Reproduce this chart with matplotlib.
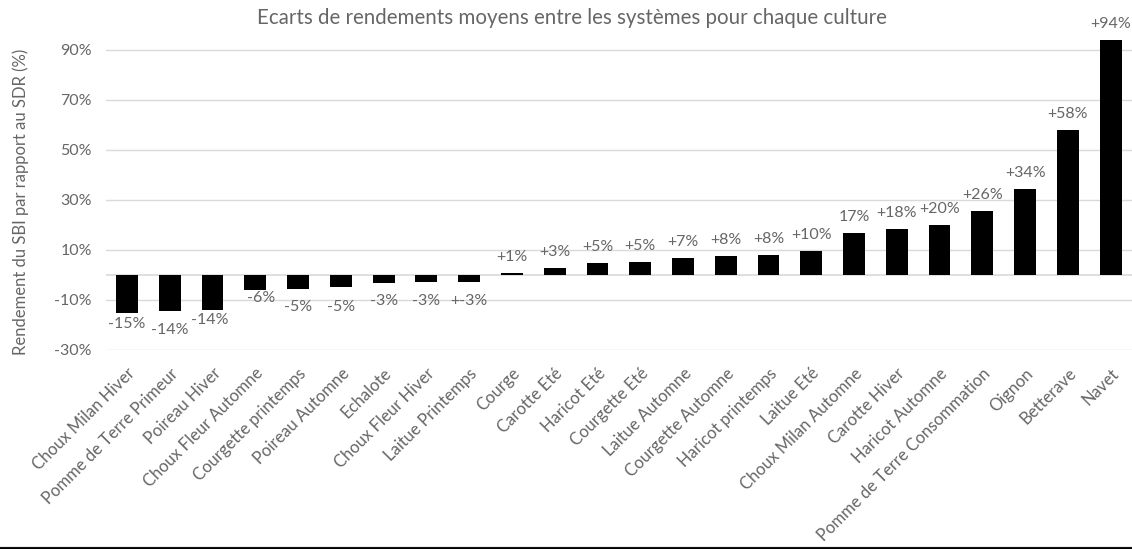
import matplotlib.pyplot as plt
from matplotlib.lines import Line2D
import numpy as np

plt.rcParams['font.family'] = ['Lato', 'DejaVu Sans']

# Yield gap of SBI vs SDR per crop (%)
crops = ['Choux Milan Hiver', 'Pomme de Terre Primeur', 'Poireau Hiver',
         'Choux Fleur Automne', 'Courgette printemps', 'Poireau Automne',
         'Echalote', 'Choux Fleur Hiver', 'Laitue Printemps', 'Courge',
         'Carotte Eté', 'Haricot Eté', 'Courgette Eté', 'Laitue Automne',
         'Courgette Automne', 'Haricot printemps', 'Laitue Eté',
         'Choux Milan Automne', 'Carotte Hiver', 'Haricot Automne',
         'Pomme de Terre Consommation', 'Oignon', 'Betterave', 'Navet']
gaps = [-15.1, -14.3, -14.0, -6.0, -5.6, -4.8, -3.1, -2.8, -2.8, 0.9,
        2.9, 4.9, 5.3, 6.9, 7.7, 8.1, 9.6, 16.8, 18.4, 20.0,
        25.6, 34.4, 58.0, 94.0]
value_labels = ['-15%', '-14%', '-14%', '-6%', '-5%', '-5%', '-3%', '-3%', '+-3%',
                '+1%', '+3%', '+5%', '+5%', '+7%', '+8%', '+8%', '+10%',
                '17%', '+18%', '+20%', '+26%', '+34%', '+58%', '+94%']
yticks = [-30, -10, 10, 30, 50, 70, 90]

# label placement (pixels from bar end to label centre), as moved by hand in the original
neg_shift = [11, 19, 10, 8, 18, 20, 18, 19, 19]
neg_dx = [0, 0, -3, 6, 0, 0, 0, 0, 0]

grey = '#666666'
px = 0.72  # points per pixel at dpi 100

fig = plt.figure(figsize=(11.32, 5.49), dpi=100)
ax = fig.add_axes([0.0933, 0.3625, 0.9067, 0.592])

xpos = np.arange(len(crops))
ax.bar(xpos, gaps, width=0.51, color='black', zorder=3)

ax.set_xlim(-0.5, len(crops) - 0.5)
ax.set_ylim(-30, 100)
ax.set_yticks(yticks)
ax.set_yticklabels([f'{t}%' for t in yticks])
ax.grid(axis='y', color='#d9d9d9', linewidth=1)
ax.axhline(0, color='#d9d9d9', linewidth=1.2, zorder=2)
for s in ax.spines.values():
    s.set_visible(False)
ax.tick_params(axis='both', length=0, labelcolor=grey)
ax.tick_params(axis='y', pad=10, labelsize=11.5)
ax.tick_params(axis='x', pad=11, labelsize=12)

ax.set_xticks(xpos)
ax.set_xticklabels(crops, rotation=45, ha='right', rotation_mode='anchor')

ax.set_ylabel('Rendement du SBI par rapport au SDR (%)', fontsize=12, color=grey)
ax.yaxis.set_label_coords(-0.075, 0.455)

k = 0
for i, (v, lab) in enumerate(zip(gaps, value_labels)):
    if v < 0:
        dy = -neg_shift[k] * px
        dx = neg_dx[k] * px
        k += 1
    else:
        dy = 16 * px
        dx = 0
    ax.annotate(lab, (i, v), xytext=(dx, dy), textcoords='offset points',
                ha='center', va='center', fontsize=11.5, color=grey)

fig.text(0.505, 0.967, 'Ecarts de rendements moyens entre les systèmes pour chaque culture',
         ha='center', va='center', fontsize=14.8, color=grey)

# frame line along the bottom of the picture
fig.add_artist(Line2D([0, 1], [0.0045, 0.0045], transform=fig.transFigure, color='#a6a6a6', linewidth=1))
fig.add_artist(Line2D([0, 1], [0.0015, 0.0015], transform=fig.transFigure, color='black', linewidth=2))

fig.savefig('out.png', dpi=100)
